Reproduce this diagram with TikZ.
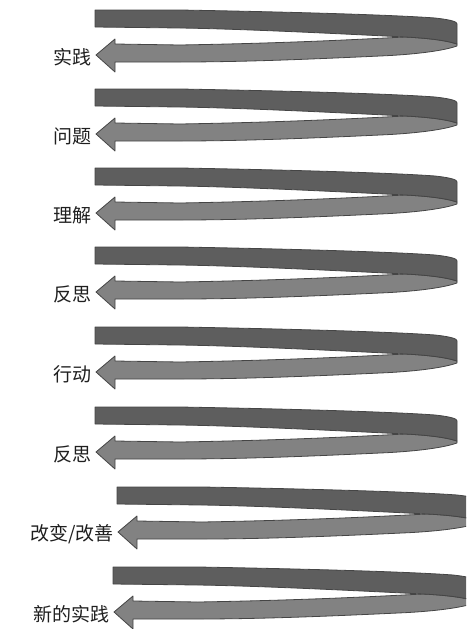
\documentclass[tikz,border=0pt]{standalone}
\usepackage{fontspec}
\newfontfamily\cjk{Noto Sans CJK SC}
\definecolor{banddark}{HTML}{5E5E5E}
\definecolor{bandlight}{HTML}{828282}
\definecolor{bandedge}{HTML}{454545}
\tikzset{
  topband/.style={fill=banddark, draw=bandedge, line width=0.8pt, line join=round},
  lowband/.style={fill=bandlight, draw=bandedge, line width=0.8pt, line join=round},
  lbl/.style={anchor=east, font=\cjk\fontsize{19}{19}\selectfont, inner sep=0pt, text=black!88}
}
\begin{document}
\begin{tikzpicture}[x=1pt,y=-1pt]
\useasboundingbox (0,0) rectangle (466,629);
\begin{scope}
\clip (0,0) rectangle (466,629);
\foreach \xo/\yo in {95/10, 95/89, 95/168, 95/247, 95/327, 95/407, 117/487, 113/567}{
  \begin{scope}[shift={(\xo,\yo)}]
    % lower (returning) band with arrow head
    \path[lowband] (20,34) -- (85,35) .. controls (200,33) and (270,29) .. (310,27)
      .. controls (330,28) and (350,30) .. (362,34) -- (362,36)
      .. controls (345,42) and (310,45) .. (285,46)
      .. controls (220,49) and (150,52) .. (85,52) -- (20,52) -- (20,62) -- (1,45) -- (20,29) -- cycle;
    % upper (outgoing) band
    \path[topband] (0,0) -- (85,0) .. controls (200,2) and (300,5) .. (340,8)
      .. controls (358,10) and (362,12) .. (362,14) -- (362,34)
      .. controls (350,30) and (330,28) .. (310,27)
      .. controls (250,24) and (150,19) .. (85,18) -- (0,17) -- cycle;
  \end{scope}
}
\end{scope}
\node[lbl] (l1) at (92,57) {实践};
\node[lbl] (l2) at (92,136) {问题};
\node[lbl] (l3) at (92,215) {理解};
\node[lbl] (l4) at (92,294) {反思};
\node[lbl] (l5) at (92,374) {行动};
\node[lbl] (l6) at (92,454) {反思};
\node[lbl] (l7) at (114,534) {改变/改善};
\node[lbl] (l8) at (110,614) {新的实践};
\end{tikzpicture}
\end{document}
